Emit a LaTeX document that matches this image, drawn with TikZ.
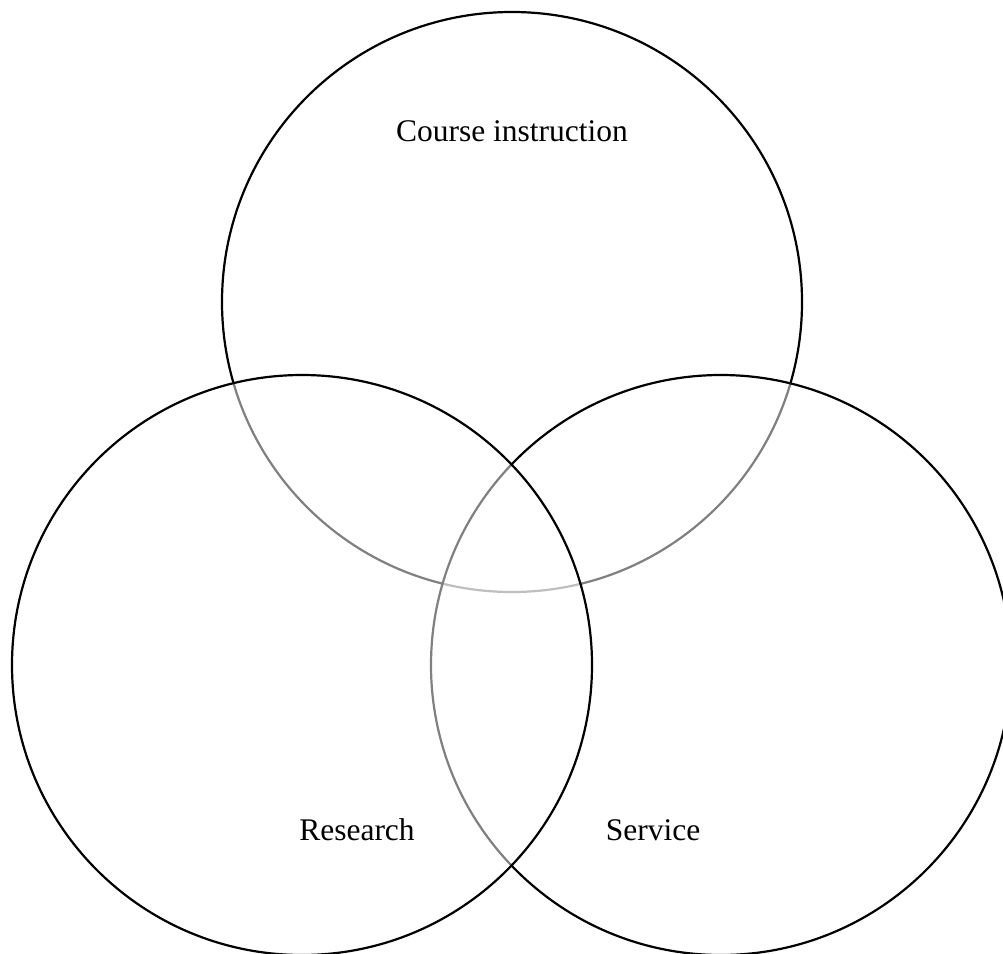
\documentclass[tikz,border=0pt]{standalone}
\usepackage{fontspec}
\setmainfont{Liberation Serif}
\begin{document}
\begin{tikzpicture}[x=1pt,y=-1pt,
  ring/.style={circle, draw=black, line width=2.2pt, fill=white, fill opacity=0.5, draw opacity=1, minimum size=580pt, inner sep=0pt},
  label/.style={font=\fontsize{31.5}{36}\selectfont, inner sep=0pt}]
\useasboundingbox (0,0) rectangle (1003,953);
\clip (0,0) rectangle (1003,953);
\node[ring] (top) at (512,302) {};
\node[ring] (right) at (721,665) {};
\node[ring] (left) at (302,665) {};
\node[label] (tl) at (512,131) {Course instruction};
\node[label] (ll) at (357,830) {Research};
\node[label] (rl) at (653,830) {Service};
\end{tikzpicture}
\end{document}
